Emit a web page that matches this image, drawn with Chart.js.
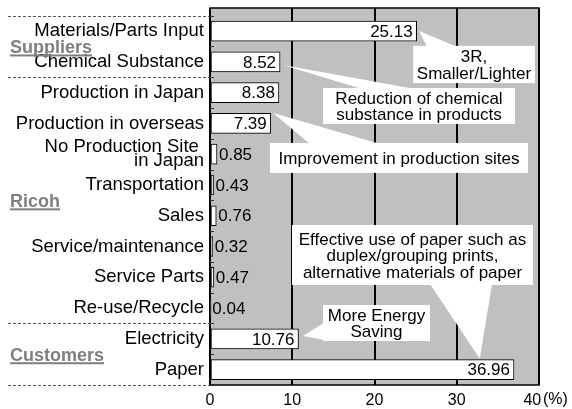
<!DOCTYPE html>
<html>
<head>
<meta charset="utf-8">
<script src="https://cdn.jsdelivr.net/npm/chart.js@4.4.1/dist/chart.umd.min.js"></script>
<style>
  html, body { margin: 0; padding: 0; background: #fff; }
  #wrap { width: 572px; height: 409px; }
</style>
</head>
<body>
<div id="wrap"><canvas id="c" width="572" height="409"></canvas></div>
<script>
// Stage of the life cycle (top to bottom)
const categories = [
  'Materials/Parts Input',
  'Chemical Substance',
  'Production in Japan',
  'Production in overseas',
  ['No Production Site ', 'in Japan'],
  'Transportation',
  'Sales',
  'Service/maintenance',
  'Service Parts',
  'Re-use/Recycle',
  'Electricity',
  'Paper'
];

// Share of total environmental impact (%)
const shares = [25.13, 8.52, 8.38, 7.39, 0.85, 0.43, 0.76, 0.32, 0.47, 0.04, 10.76, 36.96];

// Axis ticks (%)
const xTicks = [0, 10, 20, 30, 40];

// Stakeholder groups by category index range
const groupNames = ['Suppliers', 'Ricoh', 'Customers'];
const groupFirst = [0, 2, 10];
const groupLast = [1, 9, 11];

// Improvement themes, each pointing at a bar
const calloutLines = [
  ['3R,', 'Smaller/Lighter'],
  ['Reduction of chemical', 'substance in products'],
  ['Improvement in production sites'],
  ['More Energy', 'Saving'],
  ['Effective use of paper such as', 'duplex/grouping prints,', 'alternative materials of paper']
];
const calloutBar = [0, 1, 3, 10, 11];

// Callout geometry in axis units: box [x0, x1, i0, i1], tip offset from bar end, pointer base on a box edge
const calloutBox = [
  [24.7, 39.5, 0.48, 1.69],
  [13.74, 37.08, 1.85, 3.02],
  [7.29, 38.66, 3.635, 4.61],
  [13.74, 26.75, 8.9, 10.07],
  [9.97, 39.27, 6.3, 8.25]
];
const calloutTip = [
  { dx: 0.3, y: 0.0 },
  { dx: 0.35, y: 1.1 },
  { dx: 0.27, y: 2.66 },
  { dx: 0.55, y: 9.906 },
  { x: 32.8, y: 10.64 }
];
const calloutBase = [
  ['top', 26.38, 30.03],
  ['top', 18.48, 24.92],
  ['top', 12.16, 20.67],
  ['left', 9.48, 10.04],
  ['bottom', 26.75, 34.29]
];

const FONT = '"Liberation Sans", Arial, Helvetica, sans-serif';
Chart.defaults.font.family = FONT;

const decorations = {
  id: 'decorations',
  beforeDraw(chart) {
    const { ctx, chartArea: a } = chart;
    ctx.save();
    ctx.fillStyle = '#c0c0c0';
    ctx.fillRect(a.left, a.top, a.right - a.left, a.bottom - a.top);
    ctx.restore();
  },
  beforeDatasetsDraw(chart) {
    const { ctx, scales: { x, y } } = chart;
    ctx.save();
    calloutLines.forEach((lines, k) => {
      const b = calloutBox[k];
      const bx0 = x.getPixelForValue(b[0]), bx1 = x.getPixelForValue(b[1]);
      const by0 = y.getPixelForValue(b[2]), by1 = y.getPixelForValue(b[3]);
      const t = calloutTip[k];
      const tv = t.x !== undefined ? t.x : shares[calloutBar[k]] + t.dx;
      const tx = x.getPixelForValue(tv), ty = y.getPixelForValue(t.y);
      const base = calloutBase[k];
      let p1, p2;
      if (base[0] === 'top') {
        p1 = [x.getPixelForValue(base[1]), by0 + 1];
        p2 = [x.getPixelForValue(base[2]), by0 + 1];
      } else if (base[0] === 'bottom') {
        p1 = [x.getPixelForValue(base[1]), by1 - 1];
        p2 = [x.getPixelForValue(base[2]), by1 - 1];
      } else {
        p1 = [bx0 + 1, y.getPixelForValue(base[1])];
        p2 = [bx0 + 1, y.getPixelForValue(base[2])];
      }
      ctx.fillStyle = '#fff';
      ctx.beginPath();
      ctx.moveTo(tx, ty);
      ctx.lineTo(p1[0], p1[1]);
      ctx.lineTo(p2[0], p2[1]);
      ctx.closePath();
      ctx.fill();
      ctx.fillRect(bx0, by0, bx1 - bx0, by1 - by0);

      ctx.fillStyle = '#000';
      ctx.font = '17px ' + FONT;
      ctx.textAlign = 'center';
      ctx.textBaseline = 'alphabetic';
      const L = 16.5, cap = 0.716 * 17;
      const cx = (bx0 + bx1) / 2, cy = (by0 + by1) / 2;
      const first = cy - ((lines.length - 1) * L + cap) / 2 + cap;
      lines.forEach((s, j) => ctx.fillText(s, cx, first + j * L));
    });
    ctx.restore();
  },
  afterDatasetsDraw(chart) {
    const { ctx, chartArea: a, scales: { x, y } } = chart;
    ctx.save();
    // plot frame
    ctx.strokeStyle = '#000';
    ctx.lineWidth = 1.5;
    ctx.strokeRect(a.left, a.top, a.right - a.left, a.bottom - a.top);

    // small marks between categories on the left axis
    ctx.lineWidth = 1;
    ctx.strokeStyle = '#333';
    for (let k = 0; k <= categories.length; k++) {
      const py = Math.round(y.getPixelForValue(k - 0.5)) + 0.5;
      ctx.beginPath();
      ctx.moveTo(a.left, py);
      ctx.lineTo(a.left + 4, py);
      ctx.stroke();
    }

    // value labels
    ctx.font = '17px ' + FONT;
    ctx.fillStyle = '#000';
    ctx.textBaseline = 'middle';
    const meta = chart.getDatasetMeta(0);
    meta.data.forEach((bar, i) => {
      const v = shares[i];
      const txt = v.toFixed(2);
      if (v >= 5) {
        ctx.textAlign = 'right';
        ctx.fillText(txt, bar.x - 4, bar.y + 1);
      } else {
        ctx.textAlign = 'left';
        ctx.fillText(txt, bar.x + 2, bar.y + 1);
      }
    });

    // group separators and group names
    ctx.strokeStyle = '#555';
    ctx.setLineDash([3, 2]);
    const bounds = new Set();
    groupFirst.forEach((f, g) => { bounds.add(f - 0.5); bounds.add(groupLast[g] + 0.5); });
    bounds.forEach(b => {
      const py = Math.round(y.getPixelForValue(b)) + 0.5;
      ctx.beginPath();
      ctx.moveTo(8, py);
      ctx.lineTo(a.left, py);
      ctx.stroke();
    });
    ctx.setLineDash([]);

    ctx.font = 'bold 18px ' + FONT;
    ctx.fillStyle = '#7f7f7f';
    ctx.textAlign = 'left';
    ctx.textBaseline = 'alphabetic';
    groupNames.forEach((name, g) => {
      const top = y.getPixelForValue(groupFirst[g] - 0.5);
      const bot = y.getPixelForValue(groupLast[g] + 0.5);
      const base = (top + bot) / 2 + 6.5;
      ctx.fillText(name, 10, base);
      const w = ctx.measureText(name).width;
      ctx.fillRect(10, base + 1.5, w, 2);
    });

    // unit label after the last x tick
    ctx.font = '16px ' + FONT;
    ctx.fillStyle = '#000';
    ctx.textAlign = 'left';
    ctx.textBaseline = 'middle';
    ctx.fillText('(%)', x.getPixelForValue(40) + 4, 400);
    ctx.restore();
  }
};

new Chart(document.getElementById('c'), {
  type: 'bar',
  data: {
    datasets: [{
      data: shares.map((v, i) => ({ x: v, y: i })),
      backgroundColor: '#ffffff',
      borderColor: '#000000',
      borderWidth: 1,
      borderSkipped: false,
      barThickness: 20
    }]
  },
  options: {
    indexAxis: 'y',
    responsive: false,
    animation: false,
    events: [],
    layout: { padding: { top: 8, right: 33, left: 0, bottom: 0 } },
    plugins: { legend: { display: false }, tooltip: { enabled: false } },
    scales: {
      x: {
        type: 'linear',
        min: 0,
        max: 40,
        afterBuildTicks: s => { s.ticks = xTicks.map(v => ({ value: v })); },
        afterFit: s => { s.height = 24; s.paddingLeft = 0; s.paddingRight = 0; },
        grid: { color: '#000', lineWidth: 2, drawTicks: false },
        border: { display: false },
        ticks: {
          autoSkip: false,
          maxRotation: 0,
          color: '#000',
          font: { size: 16 },
          padding: 6,
          callback: v => (v === 40 ? '40   ' : String(v))
        }
      },
      y: {
        type: 'linear',
        reverse: true,
        offset: false,
        min: -0.75,
        max: 11.5,
        afterBuildTicks: s => { s.ticks = categories.map((_, i) => ({ value: i })); },
        afterFit: s => { s.width = 210; s.paddingTop = 0; s.paddingBottom = 0; },
        grid: { display: false, drawTicks: false },
        border: { display: false },
        ticks: {
          autoSkip: false,
          color: '#000',
          font: { size: 18.5, lineHeight: 0.76 },
          padding: 6,
          callback: v => categories[v]
        }
      }
    }
  },
  plugins: [decorations]
});
</script>
</body>
</html>
